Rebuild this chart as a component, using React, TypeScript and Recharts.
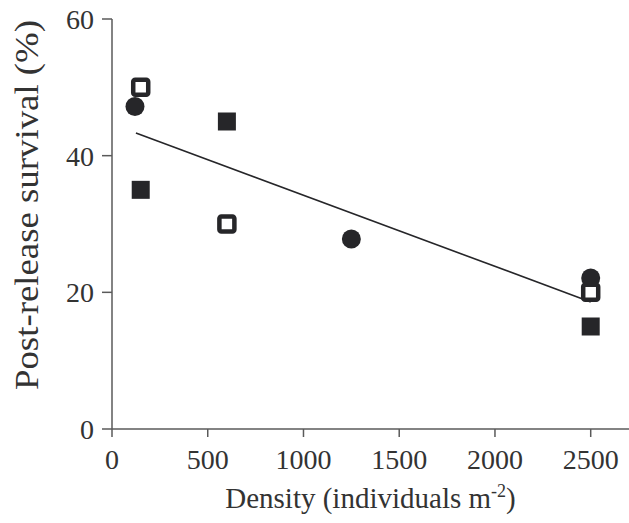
import { Scatter, ScatterChart, XAxis, YAxis } from "recharts";

type Pt = { density: number; survival: number };

const filledSquares: Pt[] = [
  { density: 150, survival: 35 },
  { density: 600, survival: 45 },
  { density: 2500, survival: 15 },
];

const openSquares: Pt[] = [
  { density: 150, survival: 50 },
  { density: 600, survival: 30 },
  { density: 2500, survival: 20 },
];

const circles: Pt[] = [
  { density: 120, survival: 47.2 },
  { density: 1250, survival: 27.8 },
  { density: 2500, survival: 22.1 },
];

const fitLine: Pt[] = [
  { density: 125, survival: 43.3 },
  { density: 2500, survival: 18.6 },
];

const xTicks = [0, 500, 1000, 1500, 2000, 2500];
const yTicks = [0, 20, 40, 60];

const ink = "#262629";
const axisColor = "#5a5a5a";
const textColor = "#333";
const font = "'Liberation Serif', 'Times New Roman', serif";

const FilledSquare = (p: any) => (
  <rect x={p.cx - 9} y={p.cy - 9} width={18} height={18} fill={ink} />
);

const OpenSquare = (p: any) => (
  <rect
    x={p.cx - 7.5}
    y={p.cy - 7.5}
    width={15}
    height={15}
    rx={2}
    fill="#fff"
    stroke={ink}
    strokeWidth={4.5}
  />
);

const Dot = (p: any) => <circle cx={p.cx} cy={p.cy} r={9.5} fill={ink} />;

// axis titles, drawn by hand so the superscript works
const XTitle = (props: any) => {
  const vb = props.viewBox;
  return (
    <text
      x={vb.x + vb.width / 2}
      y={vb.y + 79}
      textAnchor="middle"
      fill={textColor}
      fontSize={29}
      fontFamily={font}
    >
      Density (individuals m
      <tspan dy={-11} fontSize={18}>
        -2
      </tspan>
      <tspan dy={11}>)</tspan>
    </text>
  );
};

const YTitle = (props: any) => {
  const vb = props.viewBox;
  const x = vb.x + 38;
  const y = vb.y + vb.height / 2 - 19;
  return (
    <text
      x={x}
      y={y}
      transform={`rotate(-90, ${x}, ${y})`}
      textAnchor="middle"
      fill={textColor}
      fontSize={33}
      fontFamily={font}
      textLength={370}
      lengthAdjust="spacingAndGlyphs"
    >
      Post-release survival (%)
    </text>
  );
};

export default function App() {
  return (
    <div style={{ position: "absolute", left: 0, top: 0, background: "#fff" }}>
      <ScatterChart
        width={629}
        height={523}
        margin={{ top: 19, right: 0, bottom: 0, left: 0 }}
      >
        <XAxis
          type="number"
          dataKey="density"
          domain={[0, 2700]}
          ticks={xTicks}
          allowDataOverflow
          height={94}
          tickSize={8}
          tickMargin={12}
          stroke={axisColor}
          strokeWidth={1.5}
          tick={{ fill: textColor, fontSize: 28, fontFamily: font }}
          label={{ content: XTitle }}
        />
        <YAxis
          type="number"
          dataKey="survival"
          domain={[0, 60]}
          ticks={yTicks}
          width={112}
          tickSize={10}
          tickMargin={8}
          stroke={axisColor}
          strokeWidth={1.5}
          tick={{ fill: textColor, fontSize: 28, fontFamily: font }}
          label={{ content: YTitle }}
        />
        <Scatter
          data={fitLine}
          line={{ stroke: ink, strokeWidth: 1.6 }}
          shape={() => <g />}
          isAnimationActive={false}
        />
        <Scatter data={filledSquares} shape={FilledSquare} isAnimationActive={false} />
        <Scatter data={circles} shape={Dot} isAnimationActive={false} />
        <Scatter data={openSquares} shape={OpenSquare} isAnimationActive={false} />
      </ScatterChart>
    </div>
  );
}
